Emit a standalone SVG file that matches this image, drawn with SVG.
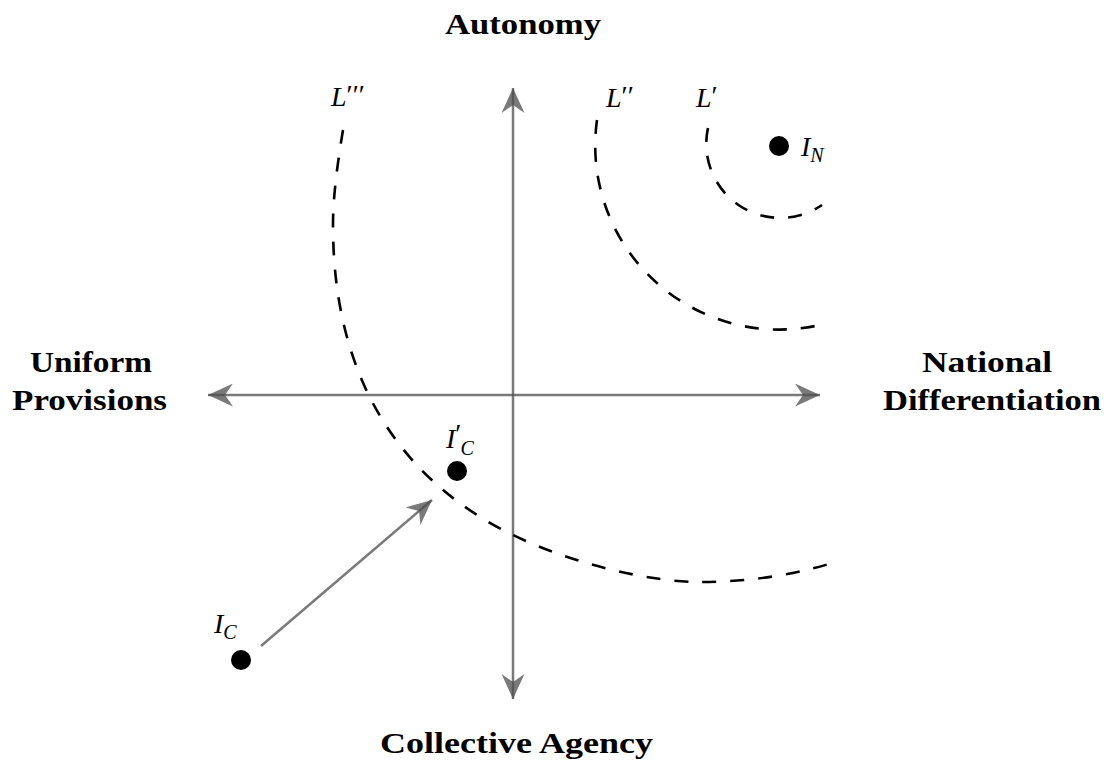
<svg xmlns="http://www.w3.org/2000/svg" width="1104" height="760" viewBox="0 0 1104 760">
<style>
.lbl{font-family:"Liberation Serif","DejaVu Serif",serif;font-weight:bold;font-size:30px;fill:#000;text-anchor:middle}
.m{font-family:"Liberation Serif","DejaVu Serif",serif;font-style:italic;font-size:28px;fill:#000}
.sub{font-size:20px}
.pr{font-size:28px;font-style:normal}
.axis{stroke:#4d4d4d;stroke-opacity:0.75;stroke-width:2.5;fill:none}
.lev{stroke:#000;stroke-width:2.6;fill:none;stroke-dasharray:14 14}
.dot{fill:#000}
</style>
<defs>
<marker id="stealth" viewBox="0 0 25 23" refX="25" refY="11.5" markerWidth="25" markerHeight="23" markerUnits="userSpaceOnUse" orient="auto-start-reverse">
<path d="M0,0 L25,11.5 L0,23 L8,11.5 Z" fill="#4d4d4d" fill-opacity="0.75"/>
</marker>
</defs>
<rect width="1104" height="760" fill="#fff"/>
<g id="connectors">
<line class="axis" x1="208" y1="395" x2="820" y2="395" marker-start="url(#stealth)" marker-end="url(#stealth)"/>
<line class="axis" x1="513" y1="88" x2="513" y2="699" marker-start="url(#stealth)" marker-end="url(#stealth)"/>
<line class="axis" x1="261" y1="646" x2="432" y2="500" marker-end="url(#stealth)"/>
</g>
<g id="level-curves">
<path id="L1" class="lev" d="M708,128 A74,74 0 0 0 822,205"/>
<path id="L2" class="lev" d="M597,120 A184,184 0 0 0 820,325"/>
<path id="L3" class="lev" d="M343,130 C338,160 333,195 333,225 C333,400 420,490 513,535 C573,564 650,582 700,582 C750,582 800,574 838,561"/>
</g>
<g id="node-IN">
<circle class="dot" cx="779" cy="146" r="10"/>
<text class="m" x="801" y="156">I<tspan class="sub" dy="6">N</tspan></text>
</g>
<g id="node-ICp">
<circle class="dot" cx="457" cy="471" r="10"/>
<text class="m" x="446" y="448">I<tspan class="pr" font-size="22" dy="-5">′</tspan><tspan class="sub" dx="-1" dy="12">C</tspan></text>
</g>
<g id="node-IC">
<circle class="dot" cx="241" cy="660" r="10"/>
<text class="m" x="214" y="633">I<tspan class="sub" dy="6">C</tspan></text>
</g>
<g id="labels-L">
<text class="m" x="331" y="106">L<tspan class="pr" dy="-2">′′′</tspan></text>
<text class="m" x="606" y="107">L<tspan class="pr" dy="-2">′′</tspan></text>
<text class="m" x="696" y="107">L<tspan class="pr" dy="-2">′</tspan></text>
</g>
<g id="axis-labels">
<text class="lbl" x="523" y="34" textLength="156" lengthAdjust="spacingAndGlyphs">Autonomy</text>
<text class="lbl" x="91" y="372" textLength="122" lengthAdjust="spacingAndGlyphs">Uniform</text>
<text class="lbl" x="89.5" y="410" textLength="155" lengthAdjust="spacingAndGlyphs">Provisions</text>
<text class="lbl" x="987" y="372" textLength="130" lengthAdjust="spacingAndGlyphs">National</text>
<text class="lbl" x="992" y="410" textLength="218" lengthAdjust="spacingAndGlyphs">Differentiation</text>
<text class="lbl" x="516.5" y="753" textLength="273" lengthAdjust="spacingAndGlyphs">Collective Agency</text>
</g>
</svg>
